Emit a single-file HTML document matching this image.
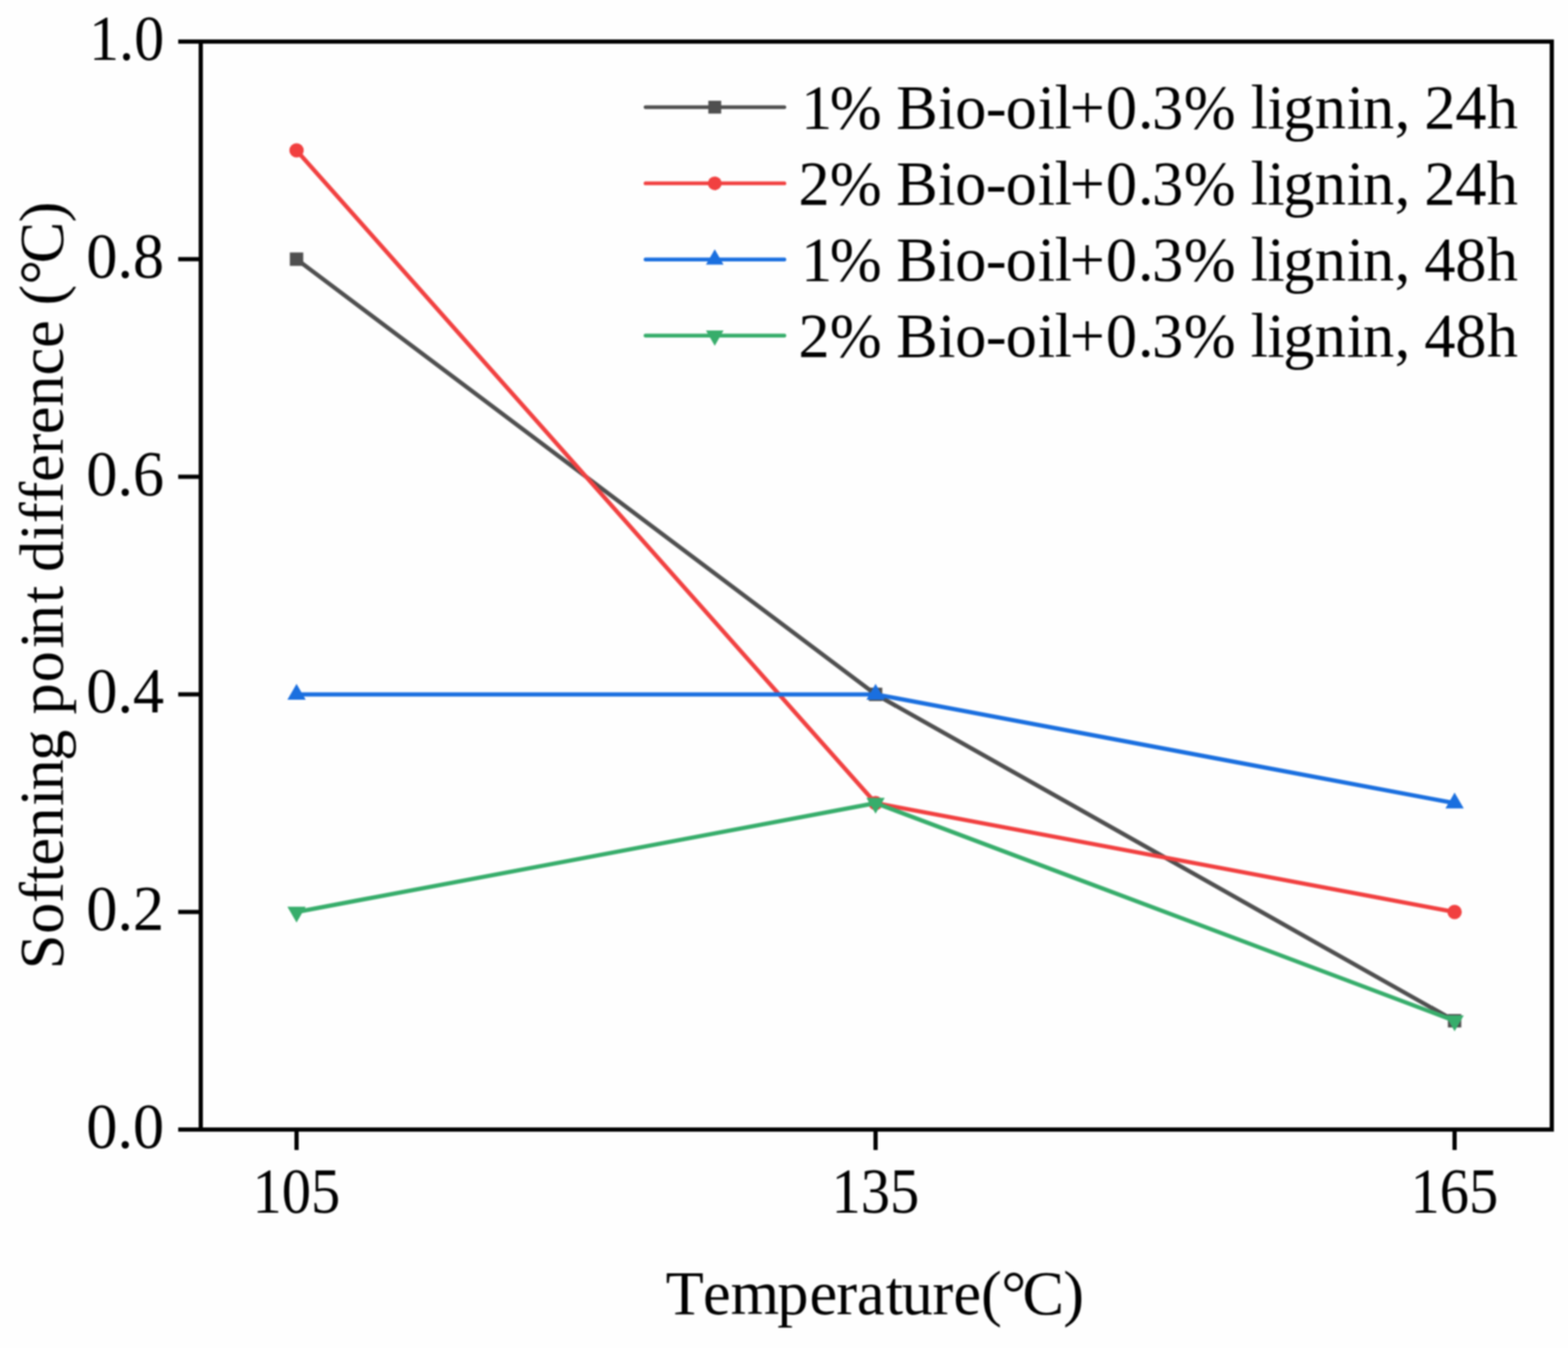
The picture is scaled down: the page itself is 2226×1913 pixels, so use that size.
<!DOCTYPE html>
<html><head><meta charset="utf-8"><title>Softening point difference</title>
<style>html,body{margin:0;padding:0;background:#fefefe;}svg{display:block;}text{font-kerning:none;font-variant-ligatures:none;}#c{filter:blur(1px);width:2226px;height:1913px;}</style>
</head><body><div id="c">
<svg width="2226" height="1913" viewBox="0 0 2226 1913"><rect x="285" y="59" width="1918" height="1544" fill="none" stroke="#000" stroke-width="6"/>
<line x1="253" y1="1603.00" x2="285" y2="1603.00" stroke="#000" stroke-width="6"/>
<text x="233" y="1629.00" font-size="90" text-anchor="end" font-family="Liberation Serif, Times New Roman, serif" textLength="110.5" lengthAdjust="spacingAndGlyphs">0.0</text>
<line x1="253" y1="1294.20" x2="285" y2="1294.20" stroke="#000" stroke-width="6"/>
<text x="233" y="1320.20" font-size="90" text-anchor="end" font-family="Liberation Serif, Times New Roman, serif" textLength="110.5" lengthAdjust="spacingAndGlyphs">0.2</text>
<line x1="253" y1="985.40" x2="285" y2="985.40" stroke="#000" stroke-width="6"/>
<text x="233" y="1011.40" font-size="90" text-anchor="end" font-family="Liberation Serif, Times New Roman, serif" textLength="110.5" lengthAdjust="spacingAndGlyphs">0.4</text>
<line x1="253" y1="676.60" x2="285" y2="676.60" stroke="#000" stroke-width="6"/>
<text x="233" y="702.60" font-size="90" text-anchor="end" font-family="Liberation Serif, Times New Roman, serif" textLength="110.5" lengthAdjust="spacingAndGlyphs">0.6</text>
<line x1="253" y1="367.80" x2="285" y2="367.80" stroke="#000" stroke-width="6"/>
<text x="233" y="393.80" font-size="90" text-anchor="end" font-family="Liberation Serif, Times New Roman, serif" textLength="110.5" lengthAdjust="spacingAndGlyphs">0.8</text>
<line x1="253" y1="59.00" x2="285" y2="59.00" stroke="#000" stroke-width="6"/>
<text x="233" y="85.00" font-size="90" text-anchor="end" font-family="Liberation Serif, Times New Roman, serif" textLength="106.5" lengthAdjust="spacingAndGlyphs">1.0</text>
<line x1="421" y1="1603" x2="421" y2="1632" stroke="#000" stroke-width="6"/>
<text x="420.7" y="1720.5" font-size="90" text-anchor="middle" font-family="Liberation Serif, Times New Roman, serif" textLength="124.6" lengthAdjust="spacingAndGlyphs">105</text>
<line x1="1243" y1="1603" x2="1243" y2="1632" stroke="#000" stroke-width="6"/>
<text x="1242.7" y="1720.5" font-size="90" text-anchor="middle" font-family="Liberation Serif, Times New Roman, serif" textLength="124.6" lengthAdjust="spacingAndGlyphs">135</text>
<line x1="2065" y1="1603" x2="2065" y2="1632" stroke="#000" stroke-width="6"/>
<text x="2064.7" y="1720.5" font-size="90" text-anchor="middle" font-family="Liberation Serif, Times New Roman, serif" textLength="124.6" lengthAdjust="spacingAndGlyphs">165</text>
<text x="944.9 998.0 1037.3 1103.6 1149.3 1187.2 1216.4 1257.6 1279.9 1323.8 1353.6 1392.8 1421.6 1451.4 1509.4" y="1865" font-size="88.5" font-family="Liberation Serif, Times New Roman, serif">Temperature(°C)</text>
<text x="-1375.5 -1325.2 -1281.6 -1252.6 -1228.4 -1190.1 -1143.7 -1121.8 -1079.7 -1036.0 -1014.1 -968.3 -920.2 -902.8 -855.9 -832.6 -811.7 -767.1 -742.6 -713.3 -684.0 -644.9 -616.2 -577.3 -532.8 -493.7 -455.1 -433.4 -404.0 -373.7 -315.5" y="0" font-size="88.5" font-family="Liberation Serif, Times New Roman, serif" transform="translate(88.7,0) rotate(-90)">Softening point difference (°C)</text>
<polyline points="421,367.80 1243,985.40 2065,1448.60" fill="none" stroke="#4f4f4f" stroke-width="6" stroke-linejoin="round"/>
<rect x="411.50" y="358.30" width="19.00" height="19.00" fill="#4f4f4f"/>
<rect x="1233.50" y="975.90" width="19.00" height="19.00" fill="#4f4f4f"/>
<rect x="2055.50" y="1439.10" width="19.00" height="19.00" fill="#4f4f4f"/>
<polyline points="421,213.40 1243,1139.80 2065,1294.20" fill="none" stroke="#f14040" stroke-width="6" stroke-linejoin="round"/>
<circle cx="421.00" cy="213.40" r="10.20" fill="#f14040"/>
<circle cx="1243.00" cy="1139.80" r="10.20" fill="#f14040"/>
<circle cx="2065.00" cy="1294.20" r="10.20" fill="#f14040"/>
<polyline points="421,985.40 1243,985.40 2065,1139.80" fill="none" stroke="#1a6fdf" stroke-width="6" stroke-linejoin="round"/>
<polygon points="421.00,970.40 434.00,992.90 408.00,992.90" fill="#1a6fdf"/>
<polygon points="1243.00,970.40 1256.00,992.90 1230.00,992.90" fill="#1a6fdf"/>
<polygon points="2065.00,1124.80 2078.00,1147.30 2052.00,1147.30" fill="#1a6fdf"/>
<polyline points="421,1294.20 1243,1139.80 2065,1448.60" fill="none" stroke="#37ad6b" stroke-width="6" stroke-linejoin="round"/>
<polygon points="408.00,1286.70 434.00,1286.70 421.00,1309.20" fill="#37ad6b"/>
<polygon points="1230.00,1132.30 1256.00,1132.30 1243.00,1154.80" fill="#37ad6b"/>
<polygon points="2052.00,1441.10 2078.00,1441.10 2065.00,1463.60" fill="#37ad6b"/>
<line x1="916.5" y1="152.10" x2="1113.5" y2="152.10" stroke="#4f4f4f" stroke-width="5.4" stroke-linecap="round"/>
<rect x="1005.58" y="142.98" width="18.24" height="18.24" fill="#4f4f4f"/>
<text x="1137.3 1178.0 1250.5 1272.3 1331.8 1355.9 1399.4 1427.8 1473.2 1497.2 1518.5 1570.1 1615.4 1635.6 1680.4 1753.5 1775.4 1799.3 1821.7 1866.6 1911.9 1935.0 1979.9 2001.0 2022.0 2065.9 2110.7" y="181.50" font-size="88.5" font-family="Liberation Serif, Times New Roman, serif">1% Bio-oil+0.3% lignin, 24h</text>
<line x1="916.5" y1="260.17" x2="1113.5" y2="260.17" stroke="#f14040" stroke-width="5.4" stroke-linecap="round"/>
<circle cx="1014.70" cy="260.17" r="9.79" fill="#f14040"/>
<text x="1133.4 1178.0 1250.5 1272.3 1331.8 1355.9 1399.4 1427.8 1473.2 1497.2 1518.5 1570.1 1615.4 1635.6 1680.4 1753.5 1775.4 1799.3 1821.7 1866.6 1911.9 1935.0 1979.9 2001.0 2022.0 2065.9 2110.7" y="289.57" font-size="88.5" font-family="Liberation Serif, Times New Roman, serif">2% Bio-oil+0.3% lignin, 24h</text>
<line x1="916.5" y1="368.24" x2="1113.5" y2="368.24" stroke="#1a6fdf" stroke-width="5.4" stroke-linecap="round"/>
<polygon points="1014.70,353.84 1027.18,375.44 1002.22,375.44" fill="#1a6fdf"/>
<text x="1137.3 1178.0 1250.5 1272.3 1331.8 1355.9 1399.4 1427.8 1473.2 1497.2 1518.5 1570.1 1615.4 1635.6 1680.4 1753.5 1775.4 1799.3 1821.7 1866.6 1911.9 1935.0 1979.9 2001.0 2022.0 2065.9 2110.7" y="397.64" font-size="88.5" font-family="Liberation Serif, Times New Roman, serif">1% Bio-oil+0.3% lignin, 48h</text>
<line x1="916.5" y1="476.31" x2="1113.5" y2="476.31" stroke="#37ad6b" stroke-width="5.4" stroke-linecap="round"/>
<polygon points="1002.22,469.11 1027.18,469.11 1014.70,490.71" fill="#37ad6b"/>
<text x="1133.4 1178.0 1250.5 1272.3 1331.8 1355.9 1399.4 1427.8 1473.2 1497.2 1518.5 1570.1 1615.4 1635.6 1680.4 1753.5 1775.4 1799.3 1821.7 1866.6 1911.9 1935.0 1979.9 2001.0 2022.0 2065.9 2110.7" y="505.71" font-size="88.5" font-family="Liberation Serif, Times New Roman, serif">2% Bio-oil+0.3% lignin, 48h</text></svg>
</div></body></html>
